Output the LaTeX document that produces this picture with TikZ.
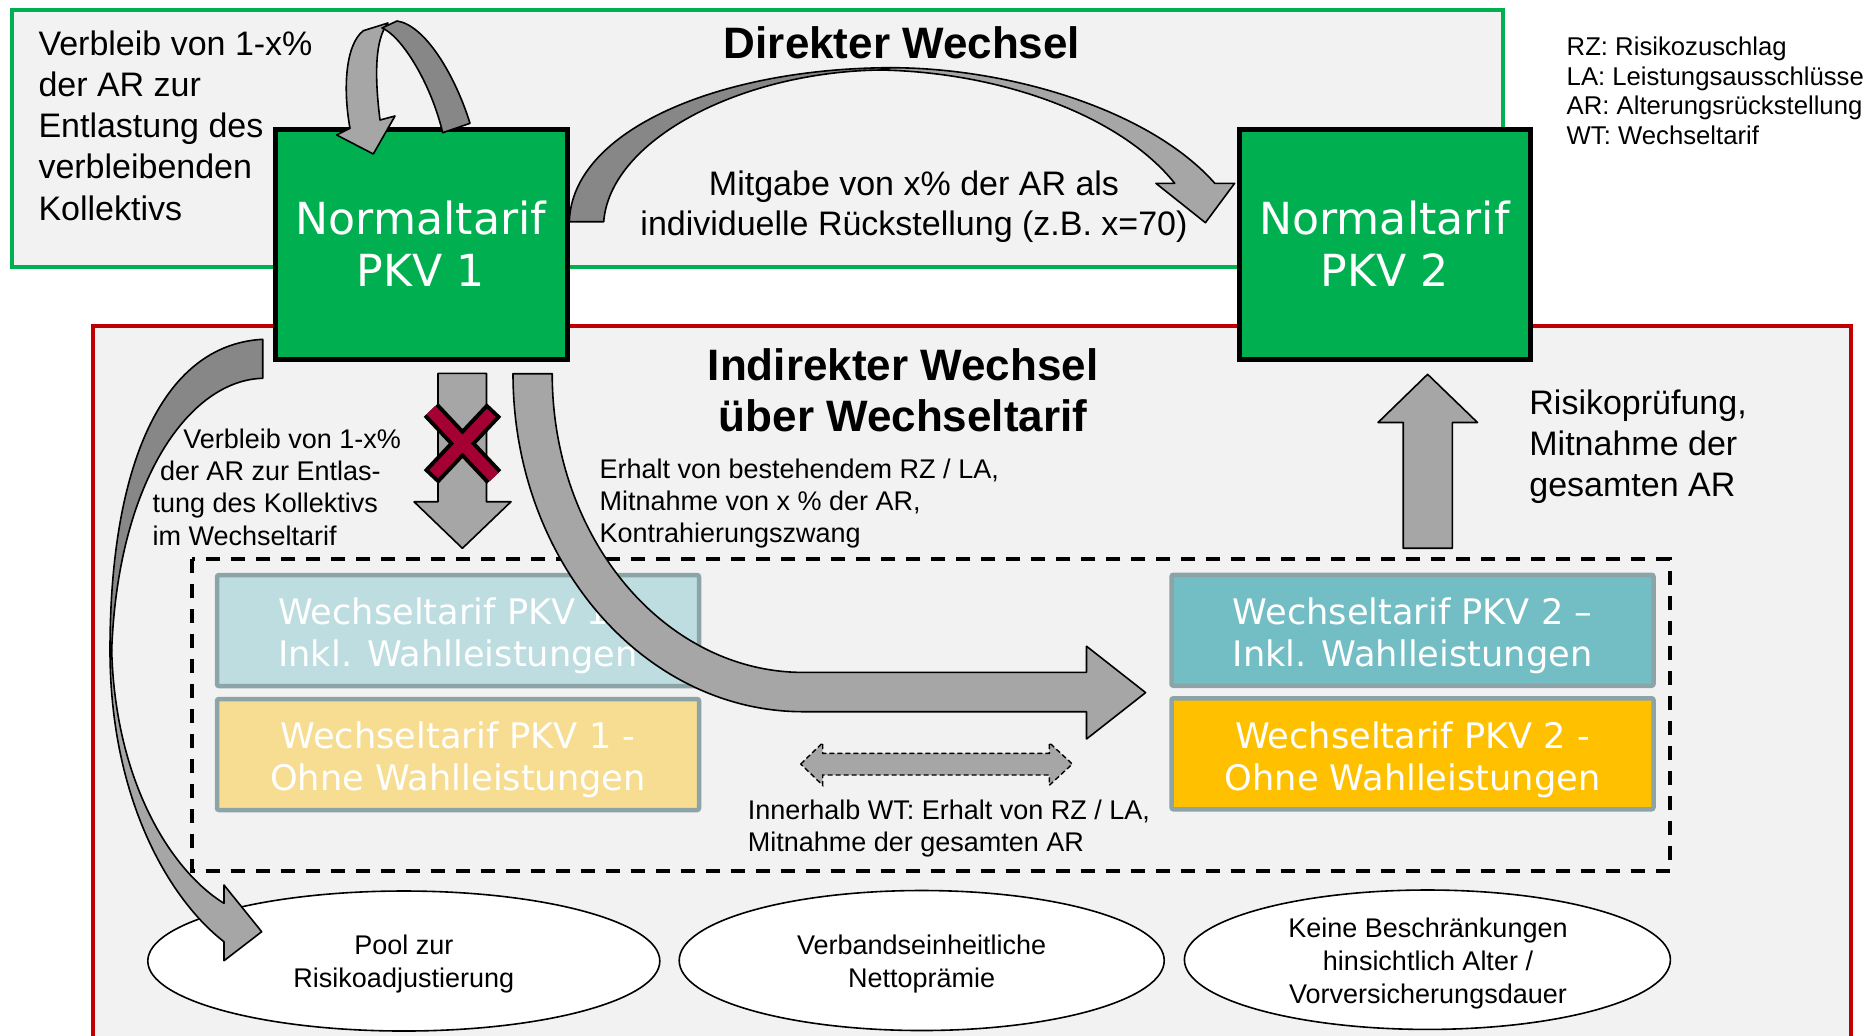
\documentclass[tikz,border=0pt]{standalone}
\usepackage{fontspec}
\setmainfont{Liberation Sans}
\newfontfamily\verdfont{DejaVu Sans}
\usetikzlibrary{shapes.geometric}

\definecolor{bggray}{HTML}{F2F2F2}
\definecolor{frgreen}{HTML}{00B050}
\definecolor{frred}{HTML}{C00000}
\definecolor{pkvgreen}{HTML}{00B050}
\definecolor{arrlight}{HTML}{A6A6A6}
\definecolor{arrdark}{HTML}{878787}
\definecolor{crossred}{HTML}{A50034}
\definecolor{wtborder}{HTML}{8CA4A7}
\definecolor{wtablue}{HTML}{BDDDE0}
\definecolor{wtayellow}{HTML}{F7DD92}
\definecolor{wtbteal}{HTML}{72BEC4}
\definecolor{wtbamber}{HTML}{FFC000}

\begin{document}
% multi-line labels are placed by the baseline of their last line
\begin{tikzpicture}[x=0.5pt,y=-0.5pt,
  every node/.style={inner sep=0pt, outer sep=0pt},
  zone/.style={line width=2pt, fill=bggray},
  pkvbox/.style={draw=black, line width=2.5pt, fill=pkvgreen, text=white, align=center,
    font={\verdfont\fontsize{22.1pt}{25.85pt}\selectfont}, minimum height=115pt},
  wtbox/.style={draw=wtborder, line width=2.25pt, rounded corners=1pt,
    minimum width=241pt, minimum height=55.5pt},
  wttext/.style={text=white, align=center, anchor=base,
    font={\verdfont\fontsize{17.6pt}{21pt}\selectfont}},
  oval/.style={ellipse, draw=black, line width=0.8pt, fill=white},
  heading/.style={font={\bfseries\fontsize{22pt}{25.9pt}\selectfont}, align=center, anchor=base},
  bigtext/.style={font={\fontsize{17pt}{20.6pt}\selectfont}, align=left, anchor=base west},
  smalltext/.style={font={\fontsize{13.5pt}{16.1pt}\selectfont}, align=left, anchor=base west},
  ovaltext/.style={font={\fontsize{13.5pt}{16.5pt}\selectfont}, align=center, anchor=base},
  legendtext/.style={font={\fontsize{12.85pt}{14.85pt}\selectfont}, align=left, anchor=base west},
  blockarrow/.style={draw=black, line width=0.8pt, line join=round},
]
\useasboundingbox (0,0) rectangle (1866,1035);
\clip (0,0) rectangle (1866,1035);
\fill[white] (0,0) rectangle (1866,1035);

% the two areas: direct and indirect change
\draw[zone, draw=frgreen] (12,9.5) rectangle (1502.6,267);
\draw[zone, draw=frred] (93.3,325.7) rectangle (1850.7,1100);

% normal tariffs
\node[pkvbox, minimum width=146pt] (pkv1) at (421,244) {Normaltarif\\PKV 1};
\node[pkvbox, minimum width=145.5pt] (pkv2) at (1384.5,244) {Normaltarif\\PKV 2};

% switching tariffs
\node[wtbox, fill=wtablue]   (wt1a) at (458,630.5) {};
\node[wtbox, fill=wtayellow] (wt1b) at (458,754.5) {};
\node[wtbox, fill=wtbteal]   (wt2a) at (1412.5,630.25) {};
\node[wtbox, fill=wtbamber]  (wt2b) at (1412.5,753.75) {};
\node[wttext] (wt1atext) at (458,666.7) {Wechseltarif PKV 1 –\\Inkl. Wahlleistungen};
\node[wttext] (wt1btext) at (458,790) {Wechseltarif PKV 1 -\\Ohne Wahlleistungen};
\node[wttext] (wt2atext) at (1412.5,666.7) {Wechseltarif PKV 2 –\\Inkl. Wahlleistungen};
\node[wttext] (wt2btext) at (1412.5,790) {Wechseltarif PKV 2 -\\Ohne Wahlleistungen};

% frame around the switching tariffs
\draw[line width=2pt, dash pattern=on 7pt off 5.5pt] (192.3,559.3) rectangle (1669.6,871);

% ovals at the bottom
\node[oval, minimum width=256pt, minimum height=70pt] (pool) at (403.8,961) {};
\node[oval, minimum width=242.5pt, minimum height=70pt] (verband) at (921.7,960.5) {};
\node[oval, minimum width=243pt, minimum height=69.7pt] (keine) at (1427.4,959.7) {};
\node[ovaltext] (pooltext) at (403.8,987.5) {Pool zur\\Risikoadjustierung};
\node[ovaltext] (verbandtext) at (921.7,987.5) {Verbandseinheitliche\\Nettoprämie};
\node[ovaltext] (keinetext) at (1428,1003) {Keine Beschränkungen\\hinsichtlich Alter /\\Vorversicherungsdauer};

% self loop on top of PKV 1
\path[blockarrow, fill=arrlight] (363.3,30.7) .. controls (345,45) and (343,90) .. (350,128.3)
  -- (336.7,135) -- (373.3,154) -- (395,116) -- (380,120)
  .. controls (375,80) and (374,40) .. (388,23) -- cycle;
\path[blockarrow, fill=arrdark] (470,123.3) .. controls (455,75) and (425,25) .. (397,21)
  -- (382,28) .. controls (400,35) and (430,80) .. (442.7,132.7) -- cycle;

% direct change: curved arrow from PKV 1 to PKV 2
\path[blockarrow, fill=arrdark] (569.3,221.7) .. controls (572,130) and (720,68) .. (891.6,67.7)
  -- (880,70) .. controls (740,72) and (610,140) .. (603.7,221.7) -- cycle;
\path[blockarrow, fill=arrlight] (891.6,67.7) .. controls (1010,68) and (1150,110) .. (1214.8,183.3)
  -- (1234.6,183.3) -- (1205.4,222.7) -- (1155.9,183.3) -- (1174.7,183.3)
  .. controls (1120,115) and (1000,72) .. (880,70) -- cycle;

% curved arrow from PKV 1 down to the pool
\path[blockarrow, fill=arrdark] (262.7,339.3) .. controls (160,345) and (110,470) .. (110,650)
  -- (111.7,650) .. controls (118,480) and (190,380) .. (262.7,378.3) -- cycle;
\path[blockarrow, fill=arrlight] (110,650) .. controls (110,800) and (170,900) .. (224,941.7)
  -- (224,960.7) -- (261.7,931.7) -- (224,885) -- (224,903.3)
  .. controls (170,870) and (115,780) .. (111.7,650) -- cycle;

% blocked arrow into the own switching tariff
\path[blockarrow, fill=arrlight] (438,373.3) -- (486.5,373.3) -- (486.5,501.7) -- (511,501.7)
  -- (462.4,548.3) -- (414,501.7) -- (438,501.7) -- cycle;
\draw[line width=10pt, black] (431,410) -- (494,477) (494,410) -- (431,477);
\draw[line width=6pt, crossred, shorten <=2pt, shorten >=2pt] (431,410) -- (494,477) (494,410) -- (431,477);

% arrow from PKV 1 into the switching tariff of PKV 2
\path[blockarrow, fill=arrlight] (513,373.7) .. controls (513,560.3) and (643,711.7) .. (803.3,711.7)
  -- (1086.5,711.7) -- (1086.5,739) -- (1145.6,692.6) -- (1086.5,646.2) -- (1086.5,672.4)
  -- (803.3,672.4) .. controls (664.7,672.4) and (552.2,538.6) .. (552.2,373.7) -- cycle;

% arrow from the switching tariff up to PKV 2
\path[blockarrow, fill=arrlight] (1403.2,548.2) -- (1403.2,422.5) -- (1378,422.5) -- (1427.6,374.3)
  -- (1477.5,422.5) -- (1452.3,422.5) -- (1452.3,548.2) -- cycle;

% change inside the switching tariff
\path[fill=arrlight, draw=black, line width=0.7pt, dash pattern=on 2.5pt off 1.5pt]
  (800.7,764) -- (822.7,742.7) -- (822.7,753.3) -- (1049.3,753.3) -- (1049.3,742.7)
  -- (1072.3,764) -- (1049.3,785.3) -- (1049.3,775) -- (822.7,775) -- (822.7,785.3) -- cycle;

% labels
\node[heading] (direkt) at (902,58.7) {Direkter Wechsel};
\node[heading] (indirekt) at (903,431.8) {Indirekter Wechsel\\über Wechseltarif};
\node[bigtext] (verbleibA) at (38.5,220) {Verbleib von 1-x\%\\der AR zur\\Entlastung des\\verbleibenden\\Kollektivs};
\node[legendtext] (abk) at (1566.7,144.6) {RZ: Risikozuschlag\\LA: Leistungsausschlüsse\\AR: Alterungsrückstellung\\WT: Wechseltarif};
\node[font={\fontsize{17pt}{20pt}\selectfont}, align=center, anchor=base] (mitgabe) at (914,235)
  {Mitgabe von x\% der AR als\\individuelle Rückstellung (z.B. x=70)};
\node[bigtext] (risiko) at (1529.4,496.4) {Risikoprüfung,\\Mitnahme der\\gesamten AR};
\node[smalltext] (verbleibB) at (152.7,545)
  {\hspace*{15.3pt}Verbleib von 1-x\%\\\hspace*{3.65pt}der AR zur Entlas-\\tung des Kollektivs\\im Wechseltarif};
\node[smalltext] (erhalt) at (599.6,542.5) {Erhalt von bestehendem RZ / LA,\\Mitnahme von x \% der AR,\\Kontrahierungszwang};
\node[smalltext] (innerhalb) at (747.8,851.4) {Innerhalb WT: Erhalt von RZ / LA,\\Mitnahme der gesamten AR};
\end{tikzpicture}
\end{document}
